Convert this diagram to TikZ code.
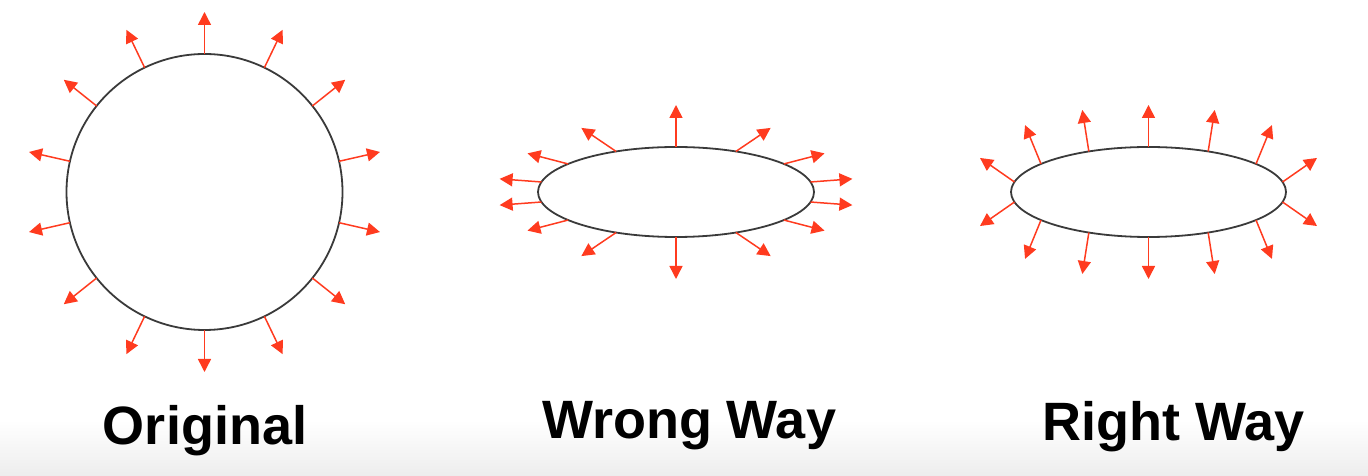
\documentclass[tikz,border=0pt]{standalone}
\usepackage{fontspec}
\setmainfont{Liberation Sans}
\usetikzlibrary{arrows.meta, calc}

\definecolor{nred}{RGB}{255,59,31}
\definecolor{rimgray}{RGB}{58,58,58}

\begin{document}
\begin{tikzpicture}[
  x=1pt, y=1pt,
  rim/.style={draw=rimgray, line width=1.8pt, fill=white},
  nrm/.style={nred, line width=1.5pt, -{Triangle[length=13pt, width=13pt]}},
  lbl/.style={anchor=base, font=\fontsize{54}{60}\selectfont\bfseries, inner sep=0pt}
]
\useasboundingbox (0,0) rectangle (1368,476);
\shade[top color=white, bottom color=black!7] (0,0) rectangle (1368,56);

\coordinate (orig) at (204.5,284);
\coordinate (wrong) at (676,284);
\coordinate (right) at (1148.5,284);

% original circle
\draw[rim] (orig) circle[radius=138];
\foreach \i in {0,...,13} {
  \pgfmathsetmacro\t{90+\i*360/14}
  \draw[nrm] ($(orig)+(\t:138)$) -- ++(\t:42);
}

% normals squashed with the points
\draw[rim] (wrong) ellipse[x radius=138, y radius=45];
\foreach \i in {0,...,13} {
  \pgfmathsetmacro\t{90+\i*360/14}
  \pgfmathsetmacro\w{atan2(45/138*sin(\t), cos(\t))}
  \draw[nrm] ($(wrong)+({138*cos(\t)},{45*sin(\t)})$) -- ++(\w:42);
}

% normals kept perpendicular
\draw[rim] (right) ellipse[x radius=137.5, y radius=45];
\foreach \i in {0,...,13} {
  \pgfmathsetmacro\t{90+\i*360/14}
  \pgfmathsetmacro\w{atan2(137.5*sin(\t), 45*cos(\t))}
  \draw[nrm] ($(right)+({137.5*cos(\t)},{45*sin(\t)})$) -- ++(\w:42);
}

\node[lbl] (origlbl) at (205,31) {Original};
\node[lbl] (wronglbl) at (689,37) {Wrong Way};
\node[lbl] (rightlbl) at (1173.5,35) {Right Way};
\end{tikzpicture}
\end{document}
